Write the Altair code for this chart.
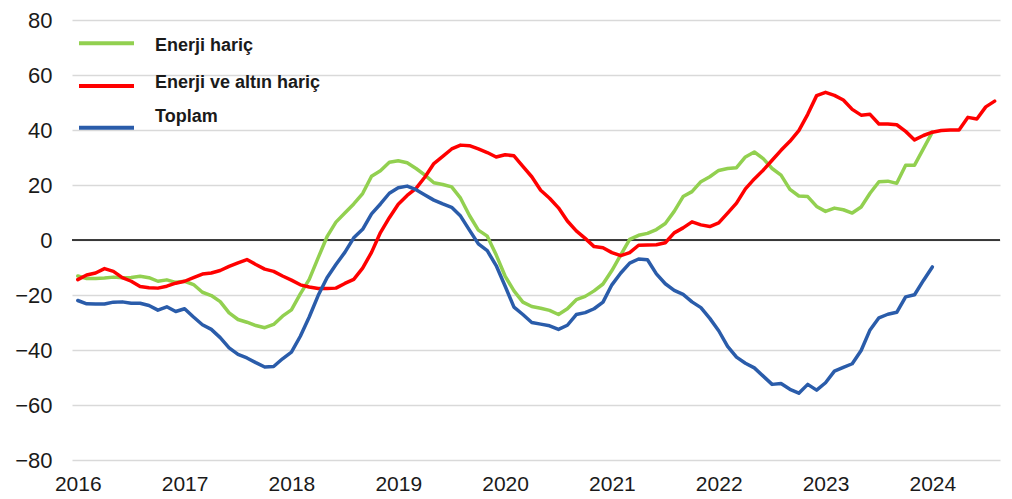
import altair as alt
import pandas as pd

SERIES = ["Enerji hariç", "Enerji ve altın hariç", "Toplam"]
COLORS = ["#92D050", "#FF0000", "#2A5CAA"]
YEARS = ["2016", "2017", "2018", "2019", "2020", "2021", "2022", "2023", "2024"]

# monthly values, Jan 2016 onward
ENERJI_HARIC = [-13.1, -14, -14, -13.8, -13.5, -13.7, -13.6, -13.2, -13.7, -15, -14.5, -15.4,
                -15, -16.2, -19, -20.2, -22.4, -26.5, -28.9, -29.9, -31.1, -31.9, -30.7, -27.7,
                -25.4, -19.6, -14.3, -6.5, 1.2, 6.5, 9.8, 13.1, 16.9, 23.2, 25.2, 28.3,
                28.8, 28.1, 26, 23.6, 20.8, 20.2, 19.3, 15.2, 8.9, 3.6, 1.4, -5.4,
                -13.1, -18.5, -22.6, -24.2, -24.8, -25.6, -27.1, -25, -21.7, -20.5, -18.5, -16,
                -11.1, -5.4, 0.2, 1.7, 2.4, 3.8, 6, 10.4, 15.8, 17.6, 21.2, 23,
                25.3, 26, 26.3, 30.2, 32, 29.6, 26, 23.6, 18.4, 16, 15.8, 12.2,
                10.4, 11.6, 11, 9.8, 12, 17, 21.2, 21.4, 20.6, 27.2, 27.2, 33.2,
                39.2]
ENERJI_ALTIN_HARIC = [-14.4, -12.7, -12, -10.4, -11.4, -13.7, -15, -16.9, -17.4, -17.5, -16.8, -15.7,
                      -15, -13.7, -12.4, -12, -11.1, -9.6, -8.3, -7.1, -8.9, -10.6, -11.4, -13.1,
                      -14.6, -16.3, -17.1, -17.6, -17.6, -17.5, -15.8, -14.3, -10.2, -4.5, 2.7, 8.1,
                      13, 16.2, 18.8, 22.9, 27.8, 30.4, 33.1, 34.5, 34.3, 33.1, 31.8, 30.2,
                      31, 30.6, 26.8, 23, 18.1, 15.2, 11.7, 6.9, 3.3, 0.6, -2.4, -2.8,
                      -4.6, -5.7, -4.6, -1.9, -1.8, -1.7, -1, 2.6, 4.4, 6.6, 5.5, 4.9,
                      6.2, 9.8, 13.4, 18.6, 22.2, 25.4, 29, 32.6, 35.9, 39.8, 45.7, 52.5,
                      53.7, 52.6, 50.9, 47.5, 45.4, 45.7, 42.2, 42.2, 41.9, 39.5, 36.4, 38,
                      39.2, 39.8, 40, 40, 44.6, 44, 48.4, 50.5]
TOPLAM = [-22, -23.2, -23.3, -23.3, -22.6, -22.5, -23, -23, -23.8, -25.5, -24.3, -26,
          -25, -28, -30.8, -32.5, -35.5, -39.2, -41.6, -42.9, -44.6, -46.2, -46, -43.2,
          -40.8, -35, -28, -20.2, -13.7, -8.9, -4.5, 0.8, 3.9, 9.5, 13.1, 17,
          19, 19.6, 18.3, 16.4, 14.5, 13.1, 11.9, 8.7, 3.6, -1.4, -3.9, -9.3,
          -16.7, -24.4, -27.1, -30, -30.6, -31.2, -32.5, -31, -27.1, -26.4, -25, -22.6,
          -16.3, -12, -8.4, -6.9, -7.2, -12.3, -15.9, -18.3, -19.8, -22.5, -24.6, -28.5,
          -33, -38.7, -42.6, -44.8, -46.5, -49.5, -52.5, -52.2, -54.3, -55.7, -52.5, -54.6,
          -51.9, -47.7, -46.3, -45, -40.2, -32.7, -28.3, -27, -26.3, -20.7, -19.9, -14.7,
          -9.8]

rows = []
for name, vals in zip(SERIES, [ENERJI_HARIC, ENERJI_ALTIN_HARIC, TOPLAM]):
    for i, v in enumerate(vals):
        rows.append({"seri": name, "ay": i, "deger": v})
df = pd.DataFrame(rows)

FONT = "Liberation Sans"
TEXT_COLOR = "#1a1a1a"

label_expr = "[" + ",".join(f"'{y}'" for y in YEARS) + "][round(datum.value / 12)]"

x_enc = alt.X(
    "ay:Q",
    scale=alt.Scale(domain=[-0.65, 103.6], nice=False, zero=False),
    axis=alt.Axis(values=[12 * i for i in range(len(YEARS))], labelExpr=label_expr,
                  grid=False, ticks=False, domain=False, labelPadding=13,
                  labelFontSize=21, labelFont=FONT, labelColor=TEXT_COLOR, title=None),
)
y_enc = alt.Y(
    "deger:Q",
    scale=alt.Scale(domain=[-80, 80], nice=False),
    axis=alt.Axis(values=list(range(-80, 81, 20)), grid=True, gridColor="#D9D9D9",
                  gridWidth=1.5, ticks=False, domain=False, labelPadding=20,
                  labelFontSize=22, labelFont=FONT, labelColor=TEXT_COLOR, title=None),
)

zero = alt.Chart(pd.DataFrame({"deger": [0]})).mark_rule(color="black", strokeWidth=1.6).encode(
    y=alt.Y("deger:Q")
)

lines = alt.Chart(df).mark_line(strokeWidth=3.5, strokeJoin="round", strokeCap="round").encode(
    x=x_enc,
    y=y_enc,
    color=alt.Color("seri:N", scale=alt.Scale(domain=SERIES, range=COLORS), legend=None),
)

# custom legend (layout positions only)
LEG_LINE_Y = [23.3, 66, 107.7]
LEG_TEXT_Y = [25.5, 62.5, 96.7]
legend_layers = []
for name, col, ly, ty in zip(SERIES, COLORS, LEG_LINE_Y, LEG_TEXT_Y):
    d = pd.DataFrame({"seri": [name]})
    legend_layers.append(
        alt.Chart(d).mark_rule(color=col, strokeWidth=4).encode(
            x=alt.value(7), x2=alt.value(62), y=alt.value(ly)
        )
    )
    legend_layers.append(
        alt.Chart(d).mark_text(align="left", baseline="middle", fontSize=18, fontWeight="bold",
                               font=FONT, color=TEXT_COLOR).encode(
            x=alt.value(83), y=alt.value(ty), text="seri:N"
        )
    )

chart = alt.layer(zero, lines, *legend_layers).properties(
    width=928,
    height=440,
    padding={"left": 64, "top": 12, "right": 4, "bottom": 38},
    autosize=alt.AutoSizeParams(type="none"),
).configure_view(stroke=None)

chart.save("out.html", embed_options={"renderer": "svg", "actions": False})
